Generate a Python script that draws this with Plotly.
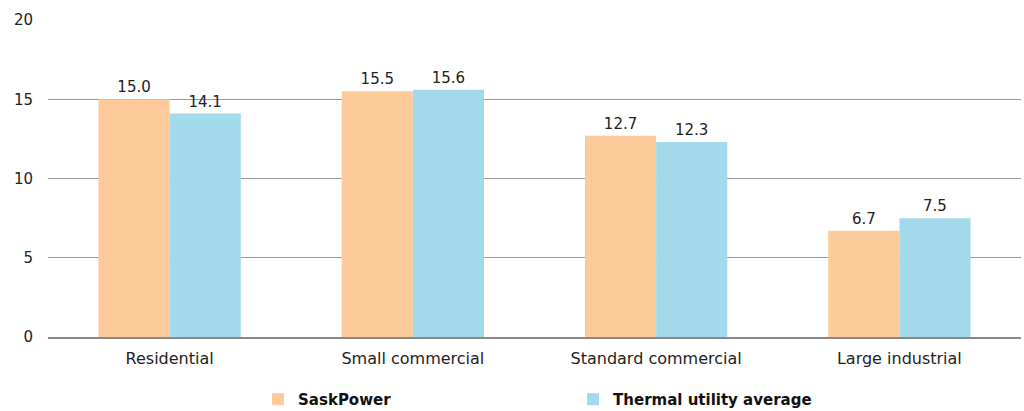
import plotly.graph_objects as go

categories = ["Residential", "Small commercial", "Standard commercial", "Large industrial"]
saskpower = [15.0, 15.5, 12.7, 6.7]
thermal_avg = [14.1, 15.6, 12.3, 7.5]
y_ticks = [0, 5, 10, 15, 20]

font_family = "'DejaVu Sans', sans-serif"

fig = go.Figure()
fig.add_trace(go.Bar(
    name="SaskPower", x=categories, y=saskpower,
    marker=dict(color="#FDCB99", line=dict(width=0)),
    text=[f"{v:.1f}" for v in saskpower], textposition="outside",
    textfont=dict(size=15, color="#222222", family=font_family),
    cliponaxis=False,
))
fig.add_trace(go.Bar(
    name="Thermal utility average", x=categories, y=thermal_avg,
    marker=dict(color="#A2DAEB", line=dict(width=0)),
    text=[f"{v:.1f}" for v in thermal_avg], textposition="outside",
    textfont=dict(size=15, color="#222222", family=font_family),
    cliponaxis=False,
))

fig.update_layout(
    width=1024, height=411,
    margin=dict(l=48, r=3, t=20, b=74, autoexpand=False),
    paper_bgcolor="white", plot_bgcolor="white",
    barmode="group", bargap=0.415, bargroupgap=0,
    font=dict(family=font_family, size=15, color="#222222"),
    showlegend=True,
    legend=dict(
        orientation="h", xref="container", yref="paper",
        x=0.252, xanchor="left", y=-0.145, yanchor="top",
        font=dict(size=15, color="#111111", family=font_family, weight="bold"),
        entrywidth=270, entrywidthmode="pixels", traceorder="normal",
        itemwidth=30,
    ),
    xaxis=dict(
        showgrid=False, showline=True, linecolor="#888888", linewidth=2,
        ticks="", tickfont=dict(size=16, color="#222222"), ticklabelstandoff=6,
    ),
    yaxis=dict(
        range=[0, 20], tickvals=y_ticks, showgrid=True, gridcolor="#999999",
        gridwidth=1, zeroline=False, showline=False, ticks="",
        tickfont=dict(size=15, color="#222222"), ticklabelstandoff=14,
    ),
)

fig.write_html("out.html")
